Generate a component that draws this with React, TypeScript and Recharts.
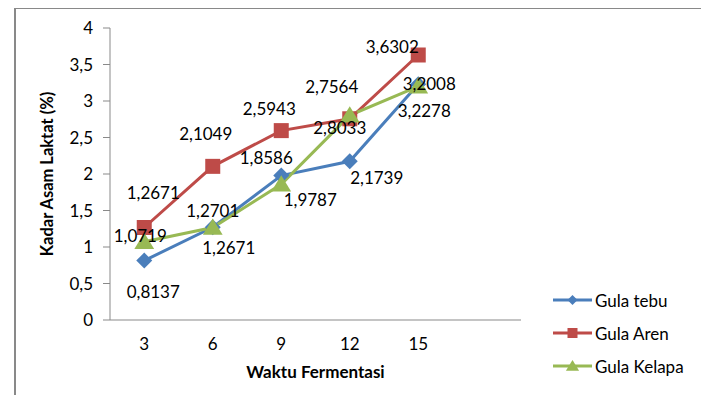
import React from "react";
import { LineChart, Line, XAxis, YAxis, LabelList, Label } from "recharts";

// Waktu fermentasi (hari)
const waktu = [3, 6, 9, 12, 15];
const gulaTebu = [0.8137, 1.2701, 1.9787, 2.1739, 3.2278];
const gulaAren = [1.2671, 2.1049, 2.5943, 2.7564, 3.6302];
const gulaKelapa = [1.0719, 1.2671, 1.8586, 2.8033, 3.2008];
const yTicks = [0, 0.5, 1, 1.5, 2, 2.5, 3, 3.5, 4];

const data = waktu.map((w, i) => ({
  waktu: w,
  tebu: gulaTebu[i],
  aren: gulaAren[i],
  kelapa: gulaKelapa[i],
}));

const BLUE = "#4A7EBB";
const RED = "#BE4B48";
const GREEN = "#98B954";
const GREY = "#898989";
const FONT = "Lato, 'Open Sans', sans-serif";

// label placement, copied from the way the labels sit in the original sheet
const tebuOffset = [
  [9, 31],
  [0, -17],
  [29, 24],
  [27, 16],
  [6, 26],
];
const arenOffset = [
  [9, -35],
  [-7, -33],
  [-12, -22],
  [-18, -32],
  [-26, -8],
];
const kelapaOffset = [
  [-4, -6],
  [16, 20],
  [-15, -27],
  [-10, 12],
  [11, -3],
];

const fmt = (v: number) => String(v).replace(".", ",");

function makeLabel(offsets: number[][]) {
  return (props: any) => {
    const { x, y, value, index } = props;
    const [dx, dy] = offsets[index] || [0, 0];
    return (
      <text
        x={Number(x) + dx}
        y={Number(y) + dy}
        textAnchor="middle"
        dominantBaseline="central"
        fontFamily={FONT}
        fontSize={17}
        fill="#000"
      >
        {fmt(Number(value))}
      </text>
    );
  };
}

function Diamond({ cx, cy, r, fill }: any) {
  return (
    <polygon
      points={`${cx},${cy - r} ${cx + r},${cy} ${cx},${cy + r} ${cx - r},${cy}`}
      fill={fill}
    />
  );
}

function Square({ cx, cy, r, fill }: any) {
  return <rect x={cx - r} y={cy - r} width={r * 2} height={r * 2} fill={fill} />;
}

function Triangle({ cx, cy, r, fill }: any) {
  return (
    <polygon
      points={`${cx},${cy - r} ${cx + r * 1.1},${cy + r * 0.8} ${cx - r * 1.1},${cy + r * 0.8}`}
      fill={fill}
    />
  );
}

const legendItems = [
  { name: "Gula tebu", color: BLUE, Marker: Diamond, r: 5 },
  { name: "Gula Aren", color: RED, Marker: Square, r: 5 },
  { name: "Gula Kelapa", color: GREEN, Marker: Triangle, r: 6 },
];

function LegendBox() {
  return (
    <svg width={150} height={100}>
      {legendItems.map((it, i) => {
        const y = 12 + i * 33;
        return (
          <g key={it.name}>
            <line x1={0} x2={39} y1={y} y2={y} stroke={it.color} strokeWidth={3} />
            <it.Marker cx={19.5} cy={y} r={it.r} fill={it.color} />
            <text
              x={42}
              y={y}
              dominantBaseline="central"
              fontFamily={FONT}
              fontSize={17}
              fill="#000"
            >
              {it.name}
            </text>
          </g>
        );
      })}
    </svg>
  );
}

export default function App() {
  return (
    <div
      style={{
        position: "relative",
        width: 709,
        height: 403,
        margin: -8,
        overflow: "hidden",
        background: "#fff",
      }}
    >
      <div
        style={{
          position: "absolute",
          left: 14,
          top: 7,
          width: 687,
          height: 430,
          border: `2px solid ${GREY}`,
        }}
      />
      <div style={{ position: "absolute", left: 0, top: 0 }}>
        <LineChart
          width={709}
          height={403}
          data={data}
          margin={{ top: 28, right: 188, bottom: 0, left: 0 }}
        >
          <XAxis
            dataKey="waktu"
            type="number"
            domain={[1.5, 19.5]}
            ticks={waktu}
            tickLine={false}
            axisLine={{ stroke: GREY }}
            tick={{ fontFamily: FONT, fontSize: 17, fill: "#000" }}
            tickMargin={12}
            height={83}
          >
            <Label
              value="Waktu Fermentasi"
              position="insideTop"
              offset={46}
              style={{ fontFamily: FONT, fontSize: 17, fontWeight: 700, fill: "#000" }}
            />
          </XAxis>
          <YAxis
            domain={[0, 4]}
            ticks={yTicks}
            interval={0}
            width={110}
            tickSize={7}
            tickMargin={10}
            tickLine={{ stroke: GREY }}
            axisLine={{ stroke: GREY }}
            tickFormatter={fmt}
            tick={{ fontFamily: FONT, fontSize: 17, fill: "#000" }}
          >
            <Label
              value="Kadar Asam Laktat (%)"
              angle={-90}
              position="insideLeft"
              offset={47}
              style={{
                fontFamily: FONT,
                fontSize: 16.5,
                fontWeight: 700,
                fill: "#000",
                textAnchor: "middle",
              }}
            />
          </YAxis>
          <Line
            dataKey="tebu"
            name="Gula tebu"
            stroke={BLUE}
            strokeWidth={3}
            isAnimationActive={false}
            dot={(p: any) => (
              <Diamond key={`t-${p.index}`} cx={p.cx} cy={p.cy} r={8} fill={BLUE} />
            )}
            activeDot={false}
          >
            <LabelList dataKey="tebu" content={makeLabel(tebuOffset)} />
          </Line>
          <Line
            dataKey="aren"
            name="Gula Aren"
            stroke={RED}
            strokeWidth={3}
            isAnimationActive={false}
            dot={(p: any) => (
              <Square key={`a-${p.index}`} cx={p.cx} cy={p.cy} r={7.5} fill={RED} />
            )}
            activeDot={false}
          >
            <LabelList dataKey="aren" content={makeLabel(arenOffset)} />
          </Line>
          <Line
            dataKey="kelapa"
            name="Gula Kelapa"
            stroke={GREEN}
            strokeWidth={3}
            isAnimationActive={false}
            dot={(p: any) => (
              <Triangle key={`k-${p.index}`} cx={p.cx} cy={p.cy} r={9} fill={GREEN} />
            )}
            activeDot={false}
          >
            <LabelList dataKey="kelapa" content={makeLabel(kelapaOffset)} />
          </Line>
        </LineChart>
      </div>
      <div style={{ position: "absolute", left: 553, top: 288 }}>
        <LegendBox />
      </div>
    </div>
  );
}
